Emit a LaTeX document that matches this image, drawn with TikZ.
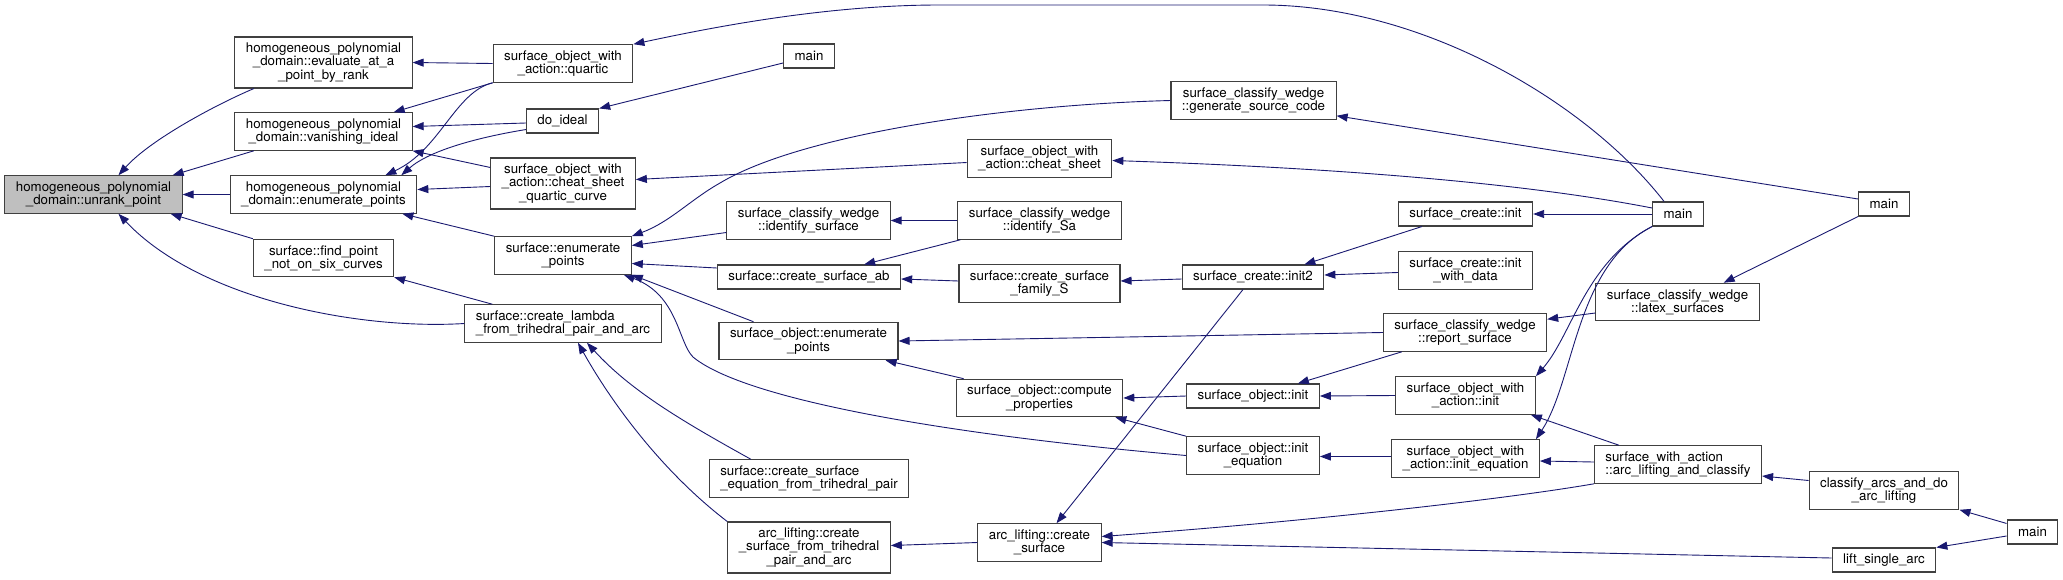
\documentclass[tikz,border=0pt]{standalone}
\usepackage{fontspec}
\setmainfont{TeX Gyre Heros}
\usepackage{xcolor}
\definecolor{edgeblue}{HTML}{191970}
\definecolor{rootgray}{HTML}{BFBFBF}
\usetikzlibrary{arrows.meta}

\begin{document}
\begin{tikzpicture}[x=1pt, y=-1pt,
  fn/.style={draw=black!75, line width=1.1pt, fill=white, align=center, inner xsep=11pt, inner ysep=0pt, font=\fontsize{13.3}{13.3}\selectfont},
  l1/.style={minimum height=24pt},
  l2/.style={minimum height=37.5pt},
  l3/.style={minimum height=51pt},
  call/.style={draw=edgeblue, line width=0.9pt, -{Triangle[length=11pt,width=8pt]}}]
\useasboundingbox (0,0) rectangle (2063,579);

% Root
\node[fn, l2, fill=rootgray] (unrank) at (93.5,194.5) {homogeneous\_polynomial\\\_domain::unrank\_point};

% Column 1
\node[fn, l3] (evaluate) at (323.5,62.5) {homogeneous\_polynomial\\\_domain::evaluate\_at\_a\\\_point\_by\_rank};
\node[fn, l2] (vanishing) at (323.5,131.5) {homogeneous\_polynomial\\\_domain::vanishing\_ideal};
\node[fn, l2] (hpenum) at (323.5,194.5) {homogeneous\_polynomial\\\_domain::enumerate\_points};
\node[fn, l2] (findpt) at (323.5,258) {surface::find\_point\\\_not\_on\_six\_curves};

% Column 2
\node[fn, l2] (quartic) at (563,63.5) {surface\_object\_with\\\_action::quartic};
\node[fn, l1] (doideal) at (562.5,121) {do\_ideal};
\node[fn, l3] (csquartic) at (563,183.5) {surface\_object\_with\\\_action::cheat\_sheet\\\_quartic\_curve};
\node[fn, l2] (senum) at (563,255.5) {surface::enumerate\\\_points};
\node[fn, l2, align=left] (lambda) at (563,323.5) {surface::create\_lambda\\\_from\_trihedral\_pair\_and\_arc};

% Column 3
\node[fn, l1] (maina) at (809,56) {main};
\node[fn, l2] (identsurf) at (808.5,220.5) {surface\_classify\_wedge\\::identify\_surface};
\node[fn, l1] (csab) at (809,277) {surface::create\_surface\_ab};
\node[fn, l2] (soenum) at (808.5,341) {surface\_object::enumerate\\\_points};
\node[fn, l2, align=left] (eqtri) at (809,478.5) {surface::create\_surface\\\_equation\_from\_trihedral\_pair};
\node[fn, l3] (altri) at (809,547.5) {arc\_lifting::create\\\_surface\_from\_trihedral\\\_pair\_and\_arc};

% Column 4
\node[fn, l2] (cheat) at (1039.5,158.5) {surface\_object\_with\\\_action::cheat\_sheet};
\node[fn, l2] (identSa) at (1039.5,220.5) {surface\_classify\_wedge\\::identify\_Sa};
\node[fn, l2] (family) at (1039.5,283.5) {surface::create\_surface\\\_family\_S};
\node[fn, l2] (compute) at (1039.5,398) {surface\_object::compute\\\_properties};
\node[fn, l2] (alcreate) at (1039.5,542.5) {arc\_lifting::create\\\_surface};

% Column 5
\node[fn, l2] (gensrc) at (1253.5,100.5) {surface\_classify\_wedge\\::generate\_source\_code};
\node[fn, l1] (init2) at (1253,277) {surface\_create::init2};
\node[fn, l1] (soinit) at (1253,396) {surface\_object::init};
\node[fn, l2] (soinitEq) at (1253,455.5) {surface\_object::init\\\_equation};

% Column 6
\node[fn, l1] (scinit) at (1465.5,214) {surface\_create::init};
\node[fn, l2] (scdata) at (1465.5,270.5) {surface\_create::init\\\_with\_data};
\node[fn, l2] (report) at (1465,332.5) {surface\_classify\_wedge\\::report\_surface};
\node[fn, l2] (sowainit) at (1465.5,395.5) {surface\_object\_with\\\_action::init};
\node[fn, l2] (sowaEq) at (1465.5,458.5) {surface\_object\_with\\\_action::init\_equation};

% Column 7
\node[fn, l1] (mainb) at (1678,214) {main};
\node[fn, l2] (latex) at (1677.5,302) {surface\_classify\_wedge\\::latex\_surfaces};
\node[fn, l2, align=left] (alclassify) at (1678,464.5) {surface\_with\_action\\::arc\_lifting\_and\_classify};

% Column 8 and 9
\node[fn, l1] (mainc) at (1884,204) {main};
\node[fn, l2] (classifyarcs) at (1884,490.5) {classify\_arcs\_and\_do\\\_arc\_lifting};
\node[fn, l1] (lift) at (1884,560) {lift\_single\_arc};
\node[fn, l1] (maind) at (2032.5,532) {main};

% Calls into unrank_point
\draw[call] ([xshift=19.5pt]evaluate.south west) .. controls (215,105) and (150,140) .. ([xshift=25pt]unrank.north);
\draw[call] ([xshift=19.5pt]vanishing.south west) -- ([xshift=-10pt]unrank.north east);
\draw[call] (hpenum.west) -- (unrank.east);
\draw[call] (findpt.north west) -- ([xshift=-12pt]unrank.south east);
\draw[call] (lambda.west) .. controls (360,330) and (200,300) .. ([xshift=25pt]unrank.south);

% Calls into column 1
\draw[call] (quartic.west) -- (evaluate.east);
\draw[call] (quartic.south west) -- ([xshift=-19pt]vanishing.north east);
\draw[call] (quartic.south west) .. controls (455,92) and (440,150) .. ([xshift=-32pt]hpenum.north east);
\draw[call] ([yshift=-2pt]doideal.west) -- ([yshift=5pt]vanishing.east);
\draw[call] ([yshift=4pt]doideal.south west) .. controls (480,137) and (430,150) .. ([xshift=-16pt]hpenum.north east);
\draw[call] ([yshift=-10pt]csquartic.north west) -- (vanishing.south east);
\draw[call] ([yshift=-3pt]csquartic.west) -- ([yshift=5pt]hpenum.east);
\draw[call] (senum.north west) -- ([xshift=-15pt]hpenum.south east);
\draw[call] ([xshift=28pt]lambda.north west) -- (findpt.south east);

% Calls into column 2
\draw[call] ([xshift=12pt]mainb.north west) .. controls (1585,100) and (1420,5) .. (1263,5) -- (939,5) .. controls (820,5) and (700,30) .. (quartic.north east);
\draw[call] ([yshift=-7pt]maina.west) -- (doideal.north east);
\draw[call] ([yshift=-4pt]cheat.west) -- ([yshift=4pt]csquartic.east);
\draw[call] (gensrc.west) .. controls (1000,105) and (800,135) .. (720,183) .. controls (690,200) and (670,222) .. (senum.north east);
\draw[call] ([yshift=-12pt]identsurf.west) -- ([yshift=10pt]senum.east);
\draw[call] ([yshift=9pt]csab.west) -- ([yshift=-8pt]senum.east);
\draw[call] ([xshift=35pt]soenum.north west) -- (senum.south east);
\draw[call] (soinitEq.west) .. controls (950,435) and (745,400) .. (693,357) .. controls (678,342) and (678,295) .. ([xshift=-8pt]senum.south east);
\draw[call] ([xshift=42pt]eqtri.north west) .. controls (680,420) and (630,390) .. ([xshift=24pt]lambda.south);
\draw[call] (altri.north west) .. controls (660,470) and (610,400) .. ([xshift=15pt]lambda.south);

% Calls into column 3
\draw[call] (identSa.west) -- (identsurf.east);
\draw[call] ([xshift=3pt]identSa.south west) -- ([xshift=-37pt]csab.north east);
\draw[call] ([yshift=2.5pt]family.west) -- ([yshift=-2pt]csab.east);
\draw[call] ([yshift=-2pt]init2.west) -- ([yshift=2.5pt]family.east);
\draw[call] ([xshift=8pt]compute.north west) -- ([xshift=-13pt]soenum.south east);
\draw[call] (report.west) -- (soenum.east);
\draw[call] ([yshift=6pt]mainb.west) .. controls (1560,190) and (1400,170) .. ([yshift=-2pt]cheat.east);
\draw[call] ([yshift=5pt]mainc.west) -- ([yshift=4pt]gensrc.south east);

% Calls into column 4
\draw[call] (soinit.west) -- (compute.east);
\draw[call] (soinitEq.north west) -- ([xshift=-8pt]compute.south east);
\draw[call] ([xshift=-10pt]init2.south) -- ([xshift=17pt]alcreate.north);
\draw[call] (alcreate.west) -- ([yshift=2pt]altri.east);
\draw[call] (alclassify.south west) .. controls (1500,500) and (1300,522) .. ([yshift=6pt]alcreate.east);
\draw[call] ([yshift=2pt]lift.west) -- (alcreate.east);

% Calls into columns 5 and 6
\draw[call] ([xshift=24pt]scinit.south west) -- ([xshift=-20pt]init2.north east);
\draw[call] ([yshift=-2pt]scdata.west) -- ([yshift=2pt]init2.east);
\draw[call] (mainb.west) -- (scinit.east);
\draw[call] ([xshift=19pt]report.south west) -- ([xshift=-22pt]soinit.north east);
\draw[call] (sowainit.west) -- (soinit.east);
\draw[call] ([yshift=2pt]sowaEq.west) -- ([yshift=-1pt]soinitEq.east);
\draw[call] ([yshift=-11pt]latex.west) -- ([yshift=-6pt]report.north east);
\draw[call] (mainb.south west) .. controls (1585,262) and (1572,335) .. (sowainit.north east);
\draw[call] (mainb.south west) .. controls (1575,265) and (1575,380) .. ([xshift=-4pt]sowaEq.north east);
\draw[call] ([xshift=25pt]alclassify.north west) -- ([xshift=-5pt]sowainit.south east);
\draw[call] ([yshift=2.5pt]alclassify.west) -- ([yshift=-2.5pt]sowaEq.east);

% Calls from the right
\draw[call] (mainc.south west) -- ([xshift=-36pt]latex.north east);
\draw[call] ([yshift=10pt]classifyarcs.west) -- ([yshift=-11.5pt]alclassify.east);
\draw[call] ([yshift=-4pt]maind.north west) -- (classifyarcs.south east);
\draw[call] ([yshift=-4pt]maind.west) -- (lift.north east);
\end{tikzpicture}
\end{document}
